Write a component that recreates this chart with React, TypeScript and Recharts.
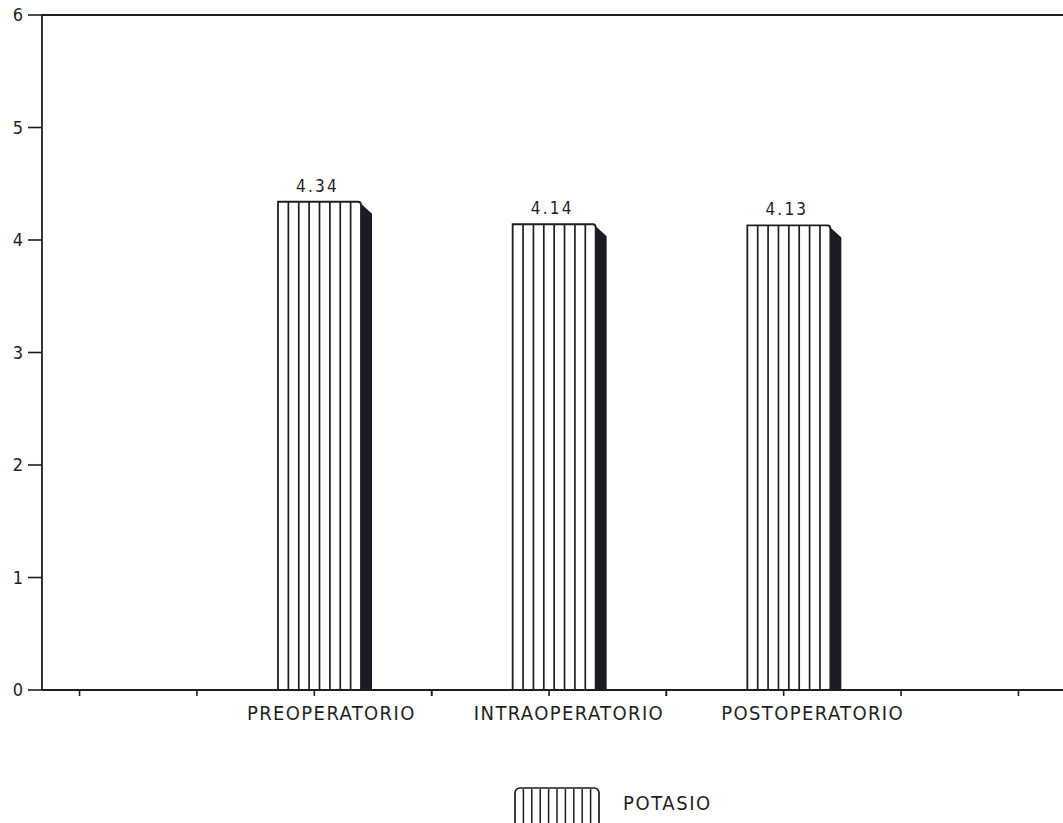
import { BarChart, Bar, XAxis, YAxis, Legend, ReferenceLine, LabelList } from "recharts";

const categories = ["PREOPERATORIO", "INTRAOPERATORIO", "POSTOPERATORIO"];
const potasio = [4.34, 4.14, 4.13];
const valueLabels = ["4.34", "4.14", "4.13"];
const yTicks = [0, 1, 2, 3, 4, 5, 6];

const data = categories.map((name, i) => ({ name, potasio: potasio[i], label: valueLabels[i] }));

const INK = "#1e1e1e";
const FONT = '"DejaVu Sans Condensed", "Liberation Sans Narrow", "DejaVu Sans", sans-serif';
const HALF_BAND = 117.4;
// the original labels sit a little to the right of their ticks
const LABEL_SHIFT = [17, 20, 29];

// front face with vertical stripes plus a dark side face
function StripedBar(props: any) {
  const { x, y, width, height } = props;
  const fx = x + 5;
  const bottom = y + height;
  const stripes = 8;
  const step = width / stripes;
  const lines = [];
  for (let i = 1; i < stripes; i++) {
    lines.push(
      <line key={i} x1={fx + i * step} x2={fx + i * step} y1={y} y2={bottom} stroke={INK} strokeWidth={1.7} />
    );
  }
  const xr = fx + width;
  return (
    <g>
      <path
        d={`M${xr + 11},${y + 12} L${xr + 11},${bottom} L${xr},${bottom} L${xr},${y + 2} Z`}
        fill="#1b1b26"
      />
      <path
        d={`M${fx},${bottom} L${fx},${y} L${xr - 3},${y} Q${xr},${y} ${xr},${y + 3} L${xr},${bottom}`}
        fill="#fff"
        stroke={INK}
        strokeWidth={1.8}
      />
      {lines}
    </g>
  );
}

function XTick(props: any) {
  const { x, y, payload, index } = props;
  const offs = [-HALF_BAND, 0, HALF_BAND];
  if (index === 0) offs.unshift(-2 * HALF_BAND);
  if (index === categories.length - 1) offs.push(2 * HALF_BAND);
  return (
    <g>
      {offs.map((o) => (
        <line key={o} x1={x + o} x2={x + o} y1={y} y2={y + 6} stroke={INK} strokeWidth={1.6} />
      ))}
      <text
        x={x + (LABEL_SHIFT[index] ?? 20)}
        y={y + 30}
        textAnchor="middle"
        fontFamily={FONT}
        fontSize={20}
        letterSpacing={1.4}
        fill={INK}
      >
        {payload.value}
      </text>
    </g>
  );
}

function ValueLabel(props: any) {
  const { x, y, width, value } = props;
  return (
    <text
      x={x + width / 2 + 3}
      y={y - 10}
      textAnchor="middle"
      fontFamily={FONT}
      fontSize={17}
      letterSpacing={2.2}
      fill={INK}
    >
      {value}
    </text>
  );
}

function PotasioLegend() {
  const sw = [];
  for (let i = 1; i < 10; i++) {
    sw.push(<line key={i} x1={1 + i * 8.4} x2={1 + i * 8.4} y1={2} y2={40} stroke={INK} strokeWidth={1.5} />);
  }
  return (
    <div style={{ position: "relative", height: 40 }}>
      <svg width={88} height={42} style={{ position: "absolute", left: 514, top: 4 }}>
        <rect x={1} y={1} width={84} height={50} rx={5} fill="#fff" stroke={INK} strokeWidth={1.7} />
        {sw}
      </svg>
      <span
        style={{
          position: "absolute",
          left: 623,
          top: 8,
          fontFamily: FONT,
          fontSize: 20,
          letterSpacing: 1.6,
          color: INK,
        }}
      >
        POTASIO
      </span>
    </div>
  );
}

export default function App() {
  return (
    <div style={{ position: "absolute", left: 0, top: 0, width: 1063, height: 823, background: "#fff", overflow: "hidden" }}>
      <BarChart
        width={1063}
        height={823}
        data={data}
        margin={{ top: 15, right: 0, left: 0, bottom: 0 }}
        barSize={83}
      >
        <XAxis
          dataKey="name"
          padding={{ left: 155, right: 162 }}
          height={93}
          tickSize={0}
          tickMargin={0}
          tickLine={false}
          interval={0}
          axisLine={{ stroke: INK, strokeWidth: 1.8 }}
          tick={<XTick />}
        />
        <YAxis
          width={42}
          domain={[0, 6]}
          ticks={yTicks}
          interval={0}
          tickSize={14}
          tickMargin={5}
          axisLine={{ stroke: INK, strokeWidth: 1.8 }}
          tickLine={{ stroke: INK, strokeWidth: 1.6 }}
          tick={{ fill: INK, fontSize: 18, fontFamily: FONT }}
        />
        <ReferenceLine y={6} stroke={INK} strokeWidth={1.8} />
        <Legend verticalAlign="bottom" height={40} content={<PotasioLegend />} />
        <Bar dataKey="potasio" shape={<StripedBar />} isAnimationActive={false}>
          <LabelList dataKey="label" content={<ValueLabel />} />
        </Bar>
      </BarChart>
    </div>
  );
}
